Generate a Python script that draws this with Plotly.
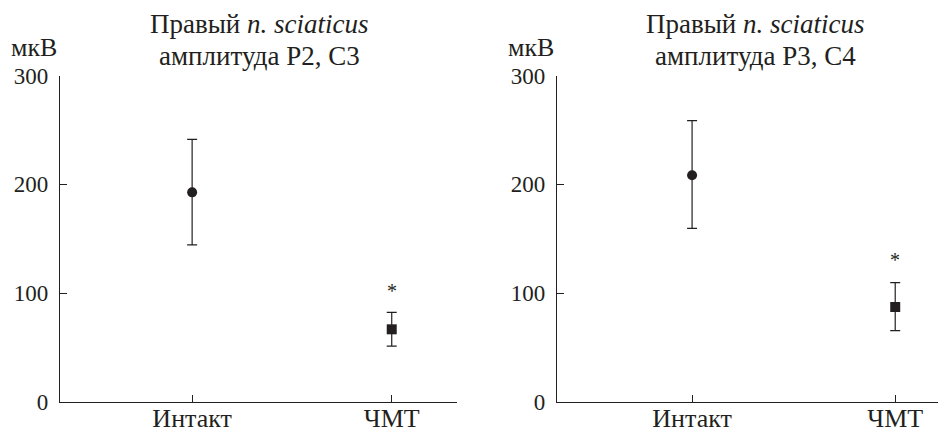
import plotly.graph_objects as go

categories = ["Интакт", "ЧМТ"]
# Left panel: amplitude P2, C3
left_mean = [192.6, 66.6]
left_err_plus = [48.8, 15.6]
left_err_minus = [48.4, 15.4]
# Right panel: amplitude P3, C4
right_mean = [208.3, 87.1]
right_err_plus = [50.2, 22.4]
right_err_minus = [48.8, 21.8]
star_left = 102
star_right = 130
y_ticks = [0, 100, 200, 300]
title_line1 = "Правый <i>n. sciaticus</i>"
title_line2 = ["амплитуда P2, C3", "амплитуда P3, C4"]
unit = "мкВ"

# page has an 8px body margin, so the figure is 8px smaller and shifted
OFF = 8
W, H = 946 - OFF, 433 - OFF
INK = "#231f20"
FONT = "Liberation Serif"

fig = go.Figure()

def add_panel(mean, ep, em, xa, ya):
    symbols = ["circle", "square"]
    sizes = [10, 10]
    for i, c in enumerate(categories):
        fig.add_trace(go.Scatter(
            x=[c], y=[mean[i]], mode="markers",
            marker=dict(symbol=symbols[i], size=sizes[i], color=INK, line=dict(width=0)),
            error_y=dict(type="data", symmetric=False, array=[ep[i]], arrayminus=[em[i]],
                         color=INK, thickness=1.2, width=5),
            xaxis=xa, yaxis=ya, showlegend=False, cliponaxis=False))

add_panel(left_mean, left_err_plus, left_err_minus, "x", "y")
add_panel(right_mean, right_err_plus, right_err_minus, "x2", "y2")

def py(t):  # target pixel y -> paper fraction
    return 1 - (t - OFF) / H

def px(t):  # target pixel x -> paper fraction
    return (t - OFF) / W

ybot = py(401.7)
ytop = py(75.6)

axis_common = dict(showgrid=False, zeroline=False, showline=True, linecolor=INK, linewidth=1.2,
                   ticks="inside", ticklen=7, tickwidth=1.2, tickcolor=INK, automargin=False)
yfont = dict(family=FONT, size=23, color=INK)
xfont = dict(family=FONT, size=26, color=INK)

fig.update_layout(
    width=W, height=H, margin=dict(l=0, r=0, t=0, b=0, autoexpand=False),
    paper_bgcolor="white", plot_bgcolor="white",
    xaxis=dict(domain=[px(60), px(457)], type="category", range=[-0.662, 1.327], anchor="y",
               tickfont=xfont, ticklabelstandoff=-7, **axis_common),
    yaxis=dict(domain=[ybot, ytop], range=[0, 300], tickvals=y_ticks, anchor="x",
               tickfont=yfont, ticklabelstandoff=6, **axis_common),
    xaxis2=dict(domain=[px(557), 1.0], type="category", range=[-0.665, 1.25], anchor="y2",
                tickfont=xfont, ticklabelstandoff=-7, **axis_common),
    yaxis2=dict(domain=[ybot, ytop], range=[0, 300], tickvals=y_ticks, anchor="x2",
                tickfont=yfont, ticklabelstandoff=6, **axis_common),
)

ann = []
for xa, ya, sy in [("x", "y", star_left), ("x2", "y2", star_right)]:
    ann.append(dict(x="ЧМТ", y=sy, xref=xa, yref=ya, text="*", showarrow=False,
                    font=dict(family=FONT, size=20, color=INK), yanchor="middle"))
for cx, l2 in zip([259, 755], title_line2):
    ann.append(dict(x=px(cx), y=py(23.5), xref="paper", yref="paper", text=title_line1, showarrow=False,
                    xanchor="center", yanchor="middle", borderpad=0,
                    font=dict(family=FONT, size=27, color=INK)))
    ann.append(dict(x=px(cx), y=py(56), xref="paper", yref="paper", text=l2, showarrow=False,
                    xanchor="center", yanchor="middle", borderpad=0,
                    font=dict(family=FONT, size=27, color=INK)))
ann.append(dict(x=px(9), y=py(47), xref="paper", yref="paper", text=unit, showarrow=False,
                xanchor="left", yanchor="middle", font=dict(family=FONT, size=26, color=INK)))
ann.append(dict(x=px(506), y=py(47), xref="paper", yref="paper", text=unit, showarrow=False,
                xanchor="left", yanchor="middle", font=dict(family=FONT, size=26, color=INK)))
fig.update_layout(annotations=ann)

fig.write_html("out.html")
